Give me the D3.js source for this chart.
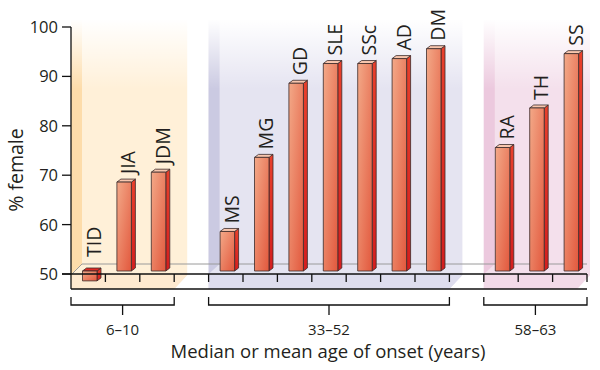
<!DOCTYPE html>
<html><head><meta charset="utf-8">
<script src="https://cdn.jsdelivr.net/npm/d3@7"></script>
<style>
html,body{margin:0;padding:0;background:#fff;}
svg{display:block;font-family:"Open Sans",Lato,sans-serif;font-weight:400;}
</style></head>
<body>
<svg id="c" width="600" height="370"></svg>
<script>
// ---- data ----
const categories = ["TID","JIA","JDM","MS","MG","GD","SLE","SSc","AD","DM","RA","TH","SS"];
const values     = [48, 68, 70, 58, 73, 88, 92, 92, 93, 95, 75, 83, 94];
const groupOf    = [0,0,0, 1,1,1,1,1,1,1, 2,2,2];
const groupLabels = ["6–10","33–52","58–63"];
const yTicks = [50,60,70,80,90,100];
const yTitle = "% female";
const xTitle = "Median or mean age of onset (years)";

// slots: categories with a gap slot between groups
const slots = [];
categories.forEach((c,i)=>{
  if(i>0 && groupOf[i]!==groupOf[i-1]) slots.push("gap"+i);
  slots.push(c);
});

const svg = d3.select("#c");
const x = d3.scaleBand().domain(slots).range([71,587]).padding(0);
const y = d3.scaleLinear().domain([50,100]).range([274,27]);
const DX=4, DY=3, BACK=11, BW=14.5, INSET=11.5;
const yb = v => y(v) - DY;

const defs = svg.append("defs");
function lin(id, x1,y1,x2,y2, stops){
  const g = defs.append("linearGradient").attr("id",id)
    .attr("x1",x1).attr("y1",y1).attr("x2",x2).attr("y2",y2);
  stops.forEach(s=>g.append("stop").attr("offset",s[0]).attr("stop-color",s[1]).attr("stop-opacity",s[2]===undefined?1:s[2]));
}
lin("front",0,0,1,1,[[0,"#f3a988"],[1,"#e2583d"]]);
lin("side",0,0,0,1,[[0,"#e8402c"],[1,"#d41e1e"]]);
lin("fade",0,0,0,1,[[0,"#fff",1],[1,"#fff",0]]);

// ---- panels ----
const panelCols = [
  {side:"#fddcaa", back:"#fff0d8", floor:"#feead0"},
  {side:"#cbcae2", back:"#e5e4f1", floor:"#deddee"},
  {side:"#ecc9de", back:"#f4e0ec", floor:"#f2dae8"}
];
const groupSlots = groupLabels.map((g,gi)=>categories.filter((c,i)=>groupOf[i]===gi));
const groupX = groupSlots.map(s=>[x(s[0]), x(s[s.length-1])+x.bandwidth()]);
const panelExtra = [13, 13, 3];
groupX.forEach((gx,gi)=>{
  const x0=gx[0], x1=gx[1]+panelExtra[gi], top=20, pc=panelCols[gi];
  const pg = svg.append("g");
  pg.append("polygon").attr("points",[[x0,top],[x1,top],[x1,275],[x1-13,289],[x0,289]].join(" ")).attr("fill",pc.back);
  pg.append("polygon").attr("points",[[x0,top],[x0+BACK,top],[x0+BACK,264],[x0,274]].join(" ")).attr("fill",pc.side);
  pg.append("polygon").attr("points",[[x0,274],[x1,274],[x1,275],[x1-13,289],[x0,289]].join(" ")).attr("fill",pc.floor);
  pg.append("rect").attr("x",x0-1).attr("y",top-1).attr("width",x1-x0+2).attr("height",70).attr("fill","url(#fade)");
});

// back floor line
svg.append("line").attr("x1",71+BACK).attr("x2",587).attr("y1",264).attr("y2",264).attr("stroke","#9a9a9a").attr("stroke-width",1);
svg.append("line").attr("x1",72).attr("x2",71+BACK).attr("y1",274).attr("y2",264).attr("stroke","#9a9a9a").attr("stroke-width",1);

// ---- bars ----
const bars = svg.append("g");
categories.forEach((c,i)=>{
  const v = values[i];
  const fx = x(c)+INSET;
  const yTop = Math.min(yb(v), yb(50));
  const yBot = Math.max(yb(v), yb(50));
  const g = bars.append("g").attr("stroke","#3b2b2b").attr("stroke-width",0.8).attr("stroke-linejoin","round");
  g.append("polygon").attr("points",[[fx+BW,yTop],[fx+BW+DX,yTop-DY],[fx+BW+DX,yBot-DY],[fx+BW,yBot]].join(" ")).attr("fill","url(#side)");
  g.append("polygon").attr("points",[[fx,yTop],[fx+DX,yTop-DY],[fx+BW+DX,yTop-DY],[fx+BW,yTop]].join(" "))
    .attr("fill", v<50 ? "#e02a24" : "#f8c6ae");
  g.append("rect").attr("x",fx).attr("y",yTop).attr("width",BW).attr("height",yBot-yTop).attr("fill","url(#front)");
  const lx = fx+BW+DX, ly = yTop-DY-(v<50?11:5);
  svg.append("text").attr("transform",`translate(${lx},${ly}) rotate(-90)`)
    .attr("font-size",19.5).attr("fill","#231f20").attr("text-anchor","start").text(c);
});

// ---- axes ----
const ax = svg.append("g").attr("stroke","#111").attr("stroke-width",1.3).attr("fill","none");
ax.append("line").attr("x1",71).attr("x2",71).attr("y1",y(100)).attr("y2",289);
ax.append("line").attr("x1",62).attr("x2",587).attr("y1",274).attr("y2",274);
ax.append("line").attr("x1",71).attr("x2",587).attr("y1",289).attr("y2",289);
yTicks.forEach(t=>{
  ax.append("line").attr("x1",62).attr("x2",71).attr("y1",y(t)).attr("y2",y(t));
  svg.append("text").attr("x",58).attr("y",y(t)+6).attr("text-anchor","end")
    .attr("font-size",16.5).attr("fill","#231f20").text(t);
});
slots.forEach((s,i)=>{
  const bx = x(s)+x.bandwidth();
  ax.append("line").attr("x1",bx).attr("x2",bx).attr("y1",274).attr("y2",282);
});
groupX.forEach((gx,gi)=>{
  const x0=gx[0], x1=gx[1], mid=(x0+x1)/2;
  ax.append("path").attr("d",`M${x0},297V305H${x1}V297M${mid},305V315`);
  svg.append("text").attr("x",mid).attr("y",335).attr("text-anchor","middle")
    .attr("font-size",15).attr("fill","#231f20").text(groupLabels[gi]);
});
svg.append("text").attr("x",328).attr("y",358).attr("text-anchor","middle")
  .attr("font-size",18.5).attr("fill","#231f20").text(xTitle);
svg.append("text").attr("transform","translate(23,170) rotate(-90)").attr("text-anchor","middle")
  .attr("font-size",19.5).attr("fill","#231f20").text(yTitle);
</script>
</body></html>
